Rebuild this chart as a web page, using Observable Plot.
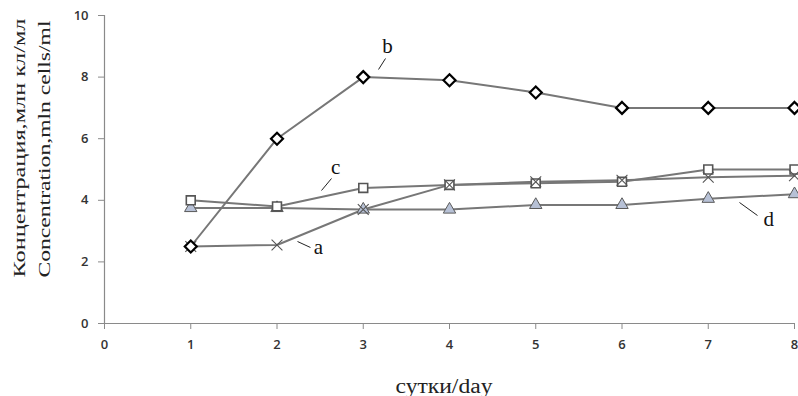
<!DOCTYPE html>
<html><head><meta charset="utf-8">
<script src="https://cdn.jsdelivr.net/npm/d3@7"></script>
<script src="https://cdn.jsdelivr.net/npm/@observablehq/plot@0.6"></script>
<style>body{margin:0;background:#fff}</style>
</head><body><div id="chart"></div>
<script>
const days = [1, 2, 3, 4, 5, 6, 7, 8];
const seriesA = [2.5, 2.55, 3.7, 4.5, 4.6, 4.65, 4.75, 4.8];
const seriesB = [2.5, 6.0, 8.0, 7.9, 7.5, 7.0, 7.0, 7.0];
const seriesC = [4.0, 3.8, 4.4, 4.5, 4.55, 4.6, 5.0, 5.0];
const seriesD = [3.75, 3.75, 3.7, 3.7, 3.85, 3.85, 4.05, 4.2];
const seriesNames = ["a", "b", "c", "d"];
const xTicks = [0, 1, 2, 3, 4, 5, 6, 7, 8];
const yTicks = [0, 2, 4, 6, 8, 10];
// annotation label anchors and leader lines (data coordinates)
const labelX = [2.48, 3.28, 2.68, 7.70];
const labelY = [2.27, 8.77, 4.87, 3.15];
const leaderX1 = [2.238, 3.177, 2.516, 7.362];
const leaderY1 = [2.662, 8.247, 4.318, 3.929];
const leaderX2 = [2.388, 3.258, 2.632, 7.571];
const leaderY2 = [2.468, 8.604, 4.708, 3.506];
const yTitle = ["Концентрация,млн кл/мл", "Concentration,mln cells/ml"];
const xTitle = "сутки/day";

const vals = {a: seriesA, b: seriesB, c: seriesC, d: seriesD};
const rows = [];
for (const s of seriesNames) days.forEach((d, i) => rows.push({series: s, day: d, value: vals[s][i]}));
const pick = (s) => rows.filter((r) => r.series === s);
const labels = seriesNames.map((s, i) => ({name: s, x: labelX[i], y: labelY[i], x1: leaderX1[i], y1: leaderY1[i], x2: leaderX2[i], y2: leaderY2[i]}));

const serif = "'Liberation Serif', 'Times New Roman', serif";
const sans = "'Open Sans', 'Liberation Sans', sans-serif";

const plot = Plot.plot({
  width: 798, height: 396,
  marginLeft: 104, marginRight: 4, marginTop: 15, marginBottom: 73,
  x: {domain: [0, 8]},
  y: {domain: [0, 10]},
  style: {background: "#fff", fontFamily: sans},
  marks: [
    Plot.ruleY([0], {stroke: "#8a8a8a", strokeWidth: 1.2}),
    Plot.ruleX([0], {stroke: "#8a8a8a", strokeWidth: 1.2}),
    Plot.axisX({ticks: xTicks, tickSize: 6, tickPadding: 10, stroke: "#8a8a8a", fill: "#333", fontSize: 13, fontWeight: 600, label: null, tickFormat: (d) => String(d)}),
    Plot.axisY({ticks: yTicks, tickSize: 6, tickPadding: 10, stroke: "#8a8a8a", fill: "#333", fontSize: 13, fontWeight: 600, label: null, tickFormat: (d) => String(d)}),
    Plot.line(rows, {x: "day", y: "value", z: "series", stroke: "#777", strokeWidth: 2}),
    Plot.dot(pick("d"), {x: "day", y: "value", symbol: "triangle", r: 4.6, fill: "#b7c1d6", stroke: "#5a5a5a", strokeWidth: 1}),
    Plot.dot(pick("c"), {x: "day", y: "value", symbol: "square", r: 5, fill: "#fff", stroke: "#555", strokeWidth: 1.6}),
    Plot.dot(pick("a"), {x: "day", y: "value", symbol: "times", r: 5, stroke: "#555", strokeWidth: 1.1}),
    Plot.dot(pick("b"), {x: "day", y: "value", symbol: "diamond2", r: 5.4, fill: "#fff", stroke: "#000", strokeWidth: 2.2}),
    Plot.link(labels, {x1: "x1", y1: "y1", x2: "x2", y2: "y2", stroke: "#222", strokeWidth: 1}),
    Plot.text(labels, {x: "x", y: "y", text: "name", lineAnchor: "bottom", fontSize: 21, fontFamily: serif, fill: "#111"}),
    Plot.text([yTitle[0]], {frameAnchor: "left", rotate: -90, textAnchor: "start", lineAnchor: "bottom", dx: -79.5, dy: 108, fontSize: 17, fontFamily: serif, fill: "#222"}),
    Plot.text([yTitle[1]], {frameAnchor: "left", rotate: -90, textAnchor: "start", lineAnchor: "bottom", dx: -54.5, dy: 108, fontSize: 17, fontFamily: serif, fill: "#222"}),
    Plot.text([xTitle], {frameAnchor: "bottom", textAnchor: "start", lineAnchor: "bottom", dx: -54, dy: 69, fontSize: 20, fontFamily: serif, fill: "#222"})
  ]
});
document.getElementById("chart").appendChild(plot);
// stretch title texts to the measured widths
const lengths = new Map([[yTitle[0], 259], [yTitle[1], 257], [xTitle, 97]]);
d3.select(plot).selectAll("text").each(function () {
  const L = lengths.get(this.textContent);
  if (L) { this.setAttribute("textLength", L); this.setAttribute("lengthAdjust", "spacingAndGlyphs"); }
});
</script>
</body></html>
